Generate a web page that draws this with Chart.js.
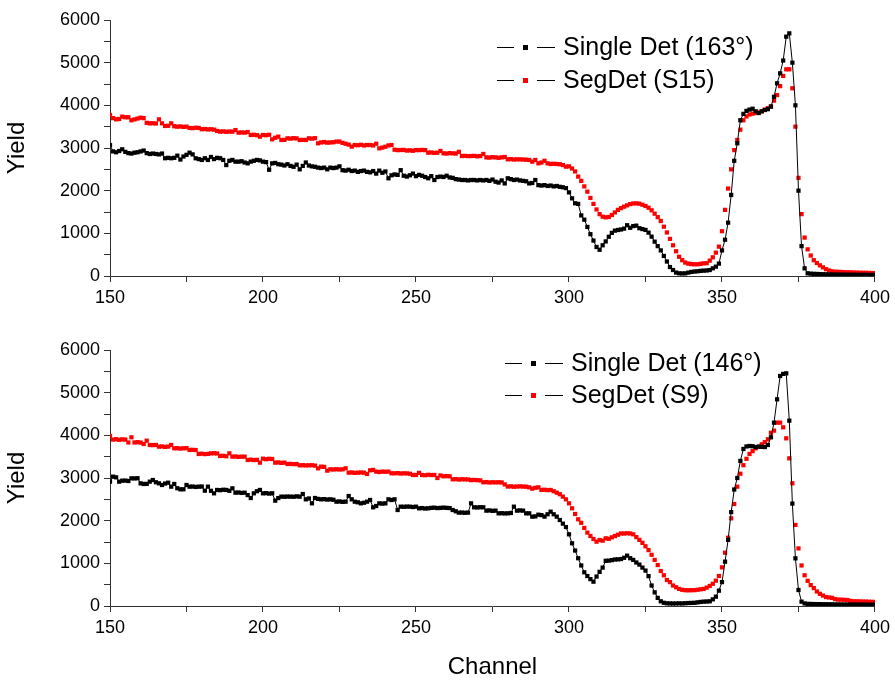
<!DOCTYPE html>
<html>
<head>
<meta charset="utf-8">
<script src="https://cdn.jsdelivr.net/npm/chart.js@4.4.0/dist/chart.umd.min.js"></script>
<style>
    body { margin: 0; background: #fff; }
    #wrap { position: relative; width: 895px; height: 684px; }
    #chartTop { position: absolute; left: 0; top: 0; }
    #chartBot { position: absolute; left: 0; top: 330px; }
</style>
</head>
<body>
<div id="wrap">
    <canvas id="chartTop" width="895" height="320"></canvas>
    <canvas id="chartBot" width="895" height="354"></canvas>
</div>
<script>
// Canais 150..400, um ponto por canal
const canalInicial = 150;
const canalFinal = 400;

const xTicks = [150, 200, 250, 300, 350, 400];
const yTicks = [0, 1000, 2000, 3000, 4000, 5000, 6000];

const rotulosTopo = ['Single Det (163°)', 'SegDet (S15)'];
const rotulosBase = ['Single Det (146°)', 'SegDet (S9)'];

// Painel de cima: Single Det (163°)
const singleTopo = [
    3070, 2920, 2900, 2930, 2970, 2910, 2880, 2870, 2890, 2900, // 150
    2920, 2940, 2880, 2860, 2870, 2860, 2850, 2870, 2760, 2770, // 160
    2760, 2770, 2820, 2730, 2800, 2840, 2890, 2850, 2760, 2740, // 170
    2720, 2760, 2720, 2790, 2740, 2770, 2760, 2720, 2600, 2700, // 180
    2720, 2680, 2680, 2690, 2660, 2640, 2680, 2700, 2720, 2710, // 190
    2680, 2670, 2490, 2640, 2650, 2620, 2610, 2590, 2620, 2580, // 200
    2560, 2610, 2500, 2580, 2660, 2590, 2570, 2560, 2540, 2530, // 210
    2540, 2500, 2540, 2530, 2540, 2570, 2480, 2470, 2490, 2460, // 220
    2470, 2440, 2460, 2470, 2440, 2430, 2460, 2400, 2470, 2420, // 230
    2450, 2290, 2360, 2380, 2370, 2480, 2350, 2330, 2360, 2400, // 240
    2340, 2370, 2350, 2320, 2290, 2340, 2250, 2320, 2330, 2320, // 250
    2350, 2310, 2300, 2270, 2260, 2250, 2250, 2240, 2250, 2250, // 260
    2240, 2250, 2240, 2250, 2230, 2260, 2210, 2190, 2240, 2170, // 270
    2290, 2270, 2250, 2260, 2240, 2230, 2220, 2170, 2180, 2250, // 280
    2130, 2120, 2130, 2110, 2120, 2100, 2110, 2090, 2080, 2060, // 290
    1960, 1820, 1705, 1690, 1420, 1320, 1150, 980, 830, 680,    // 300
    615, 720, 810, 920, 1010, 1063, 1078, 1090, 1110, 1190,     // 310
    1130, 1170, 1180, 1120, 1100, 1080, 1016, 922, 805, 700,    // 320
    600, 470, 340, 210, 140, 80, 63, 60, 62, 80,                // 330
    95, 105, 110, 120, 125, 130, 140, 180, 219, 290,            // 340
    600, 850, 1250, 1900, 2700, 3110, 3650, 3800, 3870, 3900,   // 350
    3920, 3860, 3820, 3860, 3890, 3910, 3970, 4200, 4516, 4750, // 360
    5050, 5609, 5687, 5000, 4000, 2000, 700, 180, 63, 55,       // 370
    50, 48, 45, 42, 40, 38, 36, 35, 33, 32,                     // 380
    31, 30, 30, 29, 28, 28, 27, 27, 26, 26,                     // 390
    25                                                          // 400
];

// Painel de cima: SegDet (S15)
const segTopo = [
    3774, 3700, 3672, 3680, 3735, 3720, 3720, 3650, 3670, 3690, // 150
    3711, 3700, 3590, 3578, 3580, 3575, 3672, 3578, 3516, 3520, // 160
    3578, 3510, 3500, 3505, 3495, 3500, 3470, 3465, 3475, 3470, // 170
    3440, 3445, 3435, 3440, 3430, 3400, 3383, 3390, 3380, 3385, // 180
    3383, 3420, 3360, 3365, 3360, 3375, 3305, 3310, 3300, 3266, // 190
    3305, 3300, 3310, 3203, 3240, 3266, 3188, 3190, 3227, 3220, // 200
    3230, 3225, 3188, 3190, 3188, 3227, 3220, 3230, 3110, 3130, // 210
    3140, 3125, 3130, 3135, 3150, 3150, 3120, 3100, 3080, 3031, // 220
    3070, 3065, 3075, 3060, 3070, 3070, 3060, 3100, 2992, 3010, // 230
    3030, 3060, 3070, 2960, 2950, 2953, 2955, 2940, 2945, 2935, // 240
    2953, 2950, 2955, 2950, 2890, 2895, 2885, 2890, 2930, 2875, // 250
    2870, 2880, 2875, 2870, 2910, 2812, 2815, 2810, 2812, 2815, // 260
    2805, 2812, 2860, 2780, 2775, 2785, 2780, 2770, 2780, 2790, // 270
    2734, 2740, 2730, 2735, 2734, 2730, 2725, 2719, 2680, 2719, // 280
    2641, 2660, 2700, 2640, 2625, 2630, 2625, 2620, 2600, 2563, // 290
    2570, 2520, 2450, 2330, 2230, 2100, 1977, 1830, 1690, 1560, // 300
    1450, 1390, 1375, 1383, 1430, 1490, 1550, 1590, 1625, 1656, // 310
    1685, 1700, 1703, 1695, 1670, 1640, 1600, 1540, 1460, 1380, // 320
    1289, 1156, 1020, 870, 720, 580, 450, 370, 315, 290,        // 330
    278, 275, 275, 285, 297, 300, 360, 438, 547, 688,           // 340
    1050, 1550, 2050, 2500, 2950, 3188, 3430, 3650, 3740, 3785, // 350
    3805, 3820, 3835, 3860, 3900, 3935, 3975, 4110, 4240, 4450, // 360
    4690, 4844, 4844, 4400, 3500, 2300, 1450, 900, 625, 480,    // 370
    370, 305, 250, 203, 160, 130, 110, 100, 97, 94,             // 380
    90, 88, 85, 82, 80, 78, 76, 74, 72, 70,                     // 390
    68                                                          // 400
];

// Painel de baixo: Single Det (146°)
const singleBase = [
    2914, 3031, 3016, 2914, 2937, 2940, 2930, 2992, 2990, 2995, // 150
    2875, 2860, 2862, 2914, 2953, 2900, 2875, 2836, 2870, 2890, // 160
    2797, 2860, 2760, 2735, 2735, 2836, 2797, 2800, 2790, 2797, // 170
    2800, 2703, 2797, 2700, 2641, 2720, 2715, 2725, 2720, 2700, // 180
    2758, 2656, 2660, 2650, 2656, 2600, 2531, 2641, 2690, 2720, // 190
    2641, 2645, 2635, 2641, 2469, 2530, 2563, 2560, 2565, 2563, // 200
    2560, 2570, 2563, 2625, 2500, 2520, 2406, 2531, 2510, 2500, // 210
    2505, 2495, 2500, 2490, 2445, 2450, 2440, 2445, 2578, 2500, // 220
    2445, 2430, 2406, 2420, 2445, 2485, 2313, 2344, 2406, 2400, // 230
    2406, 2500, 2484, 2500, 2250, 2328, 2325, 2330, 2328, 2320, // 240
    2328, 2289, 2295, 2285, 2289, 2300, 2305, 2295, 2300, 2305, // 250
    2300, 2295, 2250, 2220, 2188, 2190, 2185, 2188, 2406, 2313, // 260
    2310, 2315, 2313, 2235, 2240, 2230, 2235, 2172, 2175, 2170, // 270
    2172, 2180, 2328, 2235, 2240, 2235, 2172, 2172, 2094, 2100, // 280
    2140, 2130, 2094, 2150, 2211, 2150, 2094, 2016, 1930, 1850, // 290
    1680, 1470, 1300, 1120, 950, 790, 703, 630, 570, 690,       // 300
    800, 900, 1060, 1063, 1075, 1090, 1094, 1100, 1130, 1180,   // 310
    1120, 1080, 1020, 970, 900, 830, 700, 480, 320, 190,        // 320
    110, 75, 63, 60, 58, 60, 62, 60, 65, 70,                    // 330
    72, 75, 85, 95, 102, 105, 110, 156, 219, 360,               // 340
    560, 1039, 1550, 2200, 2730, 3000, 3400, 3680, 3740, 3750,  // 350
    3745, 3722, 3735, 3730, 3725, 3774, 3954, 4297, 4844, 5391, // 360
    5440, 5453, 4344, 2400, 1117, 375, 102, 60, 50, 48,         // 370
    46, 45, 44, 42, 41, 40, 39, 38, 37, 36,                     // 380
    35, 35, 34, 33, 33, 32, 32, 31, 31, 30,                     // 390
    30                                                          // 400
];

// Painel de baixo: SegDet (S9)
const segBase = [
    3985, 3900, 3910, 3895, 3905, 3900, 3833, 3954, 3833, 3840, // 150
    3830, 3797, 3875, 3774, 3770, 3775, 3735, 3740, 3730, 3735, // 160
    3774, 3696, 3700, 3690, 3696, 3700, 3657, 3660, 3655, 3563, // 170
    3570, 3560, 3565, 3578, 3580, 3575, 3516, 3520, 3510, 3578, // 180
    3500, 3505, 3495, 3500, 3500, 3422, 3430, 3420, 3425, 3360, // 190
    3453, 3440, 3450, 3445, 3360, 3365, 3355, 3360, 3328, 3330, // 200
    3325, 3328, 3297, 3300, 3295, 3297, 3300, 3290, 3227, 3266, // 210
    3260, 3172, 3203, 3200, 3205, 3200, 3203, 3227, 3125, 3130, // 220
    3120, 3125, 3130, 3125, 3094, 3180, 3190, 3149, 3140, 3150, // 230
    3145, 3149, 3110, 3110, 3115, 3105, 3110, 3108, 3100, 3071, // 240
    3071, 3120, 3071, 3065, 3075, 3070, 3071, 3000, 3060, 3040, // 250
    3045, 3040, 2969, 2975, 2965, 2970, 2969, 2965, 2950, 2955, // 260
    2950, 2945, 2900, 2905, 2895, 2900, 2898, 2900, 2895, 2850, // 270
    2800, 2805, 2795, 2800, 2805, 2800, 2795, 2781, 2750, 2770, // 280
    2781, 2720, 2725, 2715, 2720, 2690, 2656, 2620, 2563, 2500, // 290
    2406, 2290, 2157, 2032, 1950, 1830, 1720, 1641, 1570, 1508, // 300
    1547, 1531, 1586, 1575, 1610, 1640, 1670, 1700, 1700, 1705, // 310
    1700, 1680, 1615, 1550, 1480, 1400, 1310, 1200, 1080, 960,  // 320
    820, 720, 610, 560, 480, 440, 400, 380, 370, 368,           // 330
    370, 372, 380, 391, 400, 430, 470, 520, 594, 703,           // 340
    906, 1250, 1600, 2055, 2391, 2797, 3100, 3300, 3450, 3563,  // 350
    3630, 3696, 3735, 3790, 3840, 3907, 4060, 4110, 4297, 4297, // 360
    4188, 3930, 3461, 2875, 1900, 1350, 950, 720, 590, 490,     // 370
    420, 340, 285, 245, 210, 200, 190, 160, 150, 148,           // 380
    145, 140, 120, 112, 110, 108, 105, 103, 100, 98,            // 390
    95                                                          // 400
];

const fonte = '"Liberation Sans", Arial, sans-serif';

function paraPontos(valores) {
    return valores.map((v, i) => ({ x: canalInicial + i, y: v }));
}

// Legenda no estilo "— ■ —" desenhada à mão
const legendaLinhaSimbolo = {
    id: 'legendaLinhaSimbolo',
    afterDraw(chart, args, opts) {
        const ctx = chart.ctx;
        ctx.save();
        chart.data.datasets.forEach((ds, i) => {
            const y = opts.y + i * opts.gap;
            ctx.strokeStyle = '#000';
            ctx.lineWidth = 1;
            ctx.beginPath();
            ctx.moveTo(opts.x, y + 0.5);
            ctx.lineTo(opts.x + 17, y + 0.5);
            ctx.moveTo(opts.x + 40, y + 0.5);
            ctx.lineTo(opts.x + 58, y + 0.5);
            ctx.stroke();
            ctx.fillStyle = ds.pointBackgroundColor;
            ctx.fillRect(opts.x + 26, y - 2, 5, 5);
            ctx.fillStyle = '#000';
            ctx.font = '25px ' + fonte;
            ctx.textBaseline = 'middle';
            ctx.textAlign = 'left';
            ctx.fillText(ds.label, opts.x + 66, y + 1);
        });
        ctx.restore();
    }
};

function criarPainel(canvasId, serieSingle, serieSeg, rotulos, legenda, comTituloX) {
    const ctx = document.getElementById(canvasId).getContext('2d');
    return new Chart(ctx, {
        type: 'line',
        data: {
            datasets: [{
                label: rotulos[0],
                data: paraPontos(serieSingle),
                borderColor: '#000',
                borderWidth: 1,
                pointStyle: 'rect',
                pointRadius: 3,
                pointBorderWidth: 0,
                pointBackgroundColor: '#000',
                tension: 0
            }, {
                label: rotulos[1],
                data: paraPontos(serieSeg),
                showLine: false,
                borderColor: '#ff0000',
                pointStyle: 'rect',
                pointRadius: 3,
                pointBorderWidth: 0,
                pointBackgroundColor: '#ff0000'
            }]
        },
        options: {
            responsive: false,
            animation: false,
            layout: { padding: { top: 20, right: 20, left: 0, bottom: 0 } },
            plugins: {
                legend: { display: false },
                tooltip: { enabled: false },
                legendaLinhaSimbolo: legenda
            },
            scales: {
                x: {
                    type: 'linear',
                    min: canalInicial,
                    max: canalFinal,
                    afterFit: (scale) => { scale.height = comTituloX ? 78 : 44; },
                    afterBuildTicks: (scale) => {
                        const t = [];
                        for (let v = canalInicial; v <= canalFinal; v += 25) t.push({ value: v });
                        scale.ticks = t;
                    },
                    ticks: {
                        autoSkip: false,
                        maxRotation: 0,
                        padding: 5,
                        color: '#000',
                        font: { family: fonte, size: 18 },
                        callback: (v) => xTicks.includes(v) ? String(v) : ''
                    },
                    grid: { drawOnChartArea: false, drawTicks: true, tickLength: 6, color: '#333' },
                    border: { display: true, color: '#333', width: 1 },
                    title: {
                        display: comTituloX,
                        text: 'Channel',
                        color: '#000',
                        font: { family: fonte, size: 24 },
                        padding: { top: 0, bottom: 2 }
                    }
                },
                y: {
                    min: 0,
                    max: 6000,
                    afterFit: (scale) => { scale.width = 110; },
                    afterBuildTicks: (scale) => {
                        const t = [];
                        for (let v = 0; v <= 6000; v += 500) t.push({ value: v });
                        scale.ticks = t;
                    },
                    ticks: {
                        autoSkip: false,
                        padding: 4,
                        color: '#000',
                        font: { family: fonte, size: 18 },
                        callback: (v) => yTicks.includes(v) ? String(v) : ''
                    },
                    grid: { drawOnChartArea: false, drawTicks: true, tickLength: 6, color: '#333' },
                    border: { display: true, color: '#333', width: 1 },
                    title: {
                        display: true,
                        text: 'Yield',
                        color: '#000',
                        font: { family: fonte, size: 24 },
                        padding: { top: 3, bottom: 0 }
                    }
                }
            }
        },
        plugins: [legendaLinhaSimbolo]
    });
}

criarPainel('chartTop', singleTopo, segTopo, rotulosTopo, { x: 497, y: 47, gap: 33 }, false);
criarPainel('chartBot', singleBase, segBase, rotulosBase, { x: 505, y: 33, gap: 32 }, true);
</script>
</body>
</html>
